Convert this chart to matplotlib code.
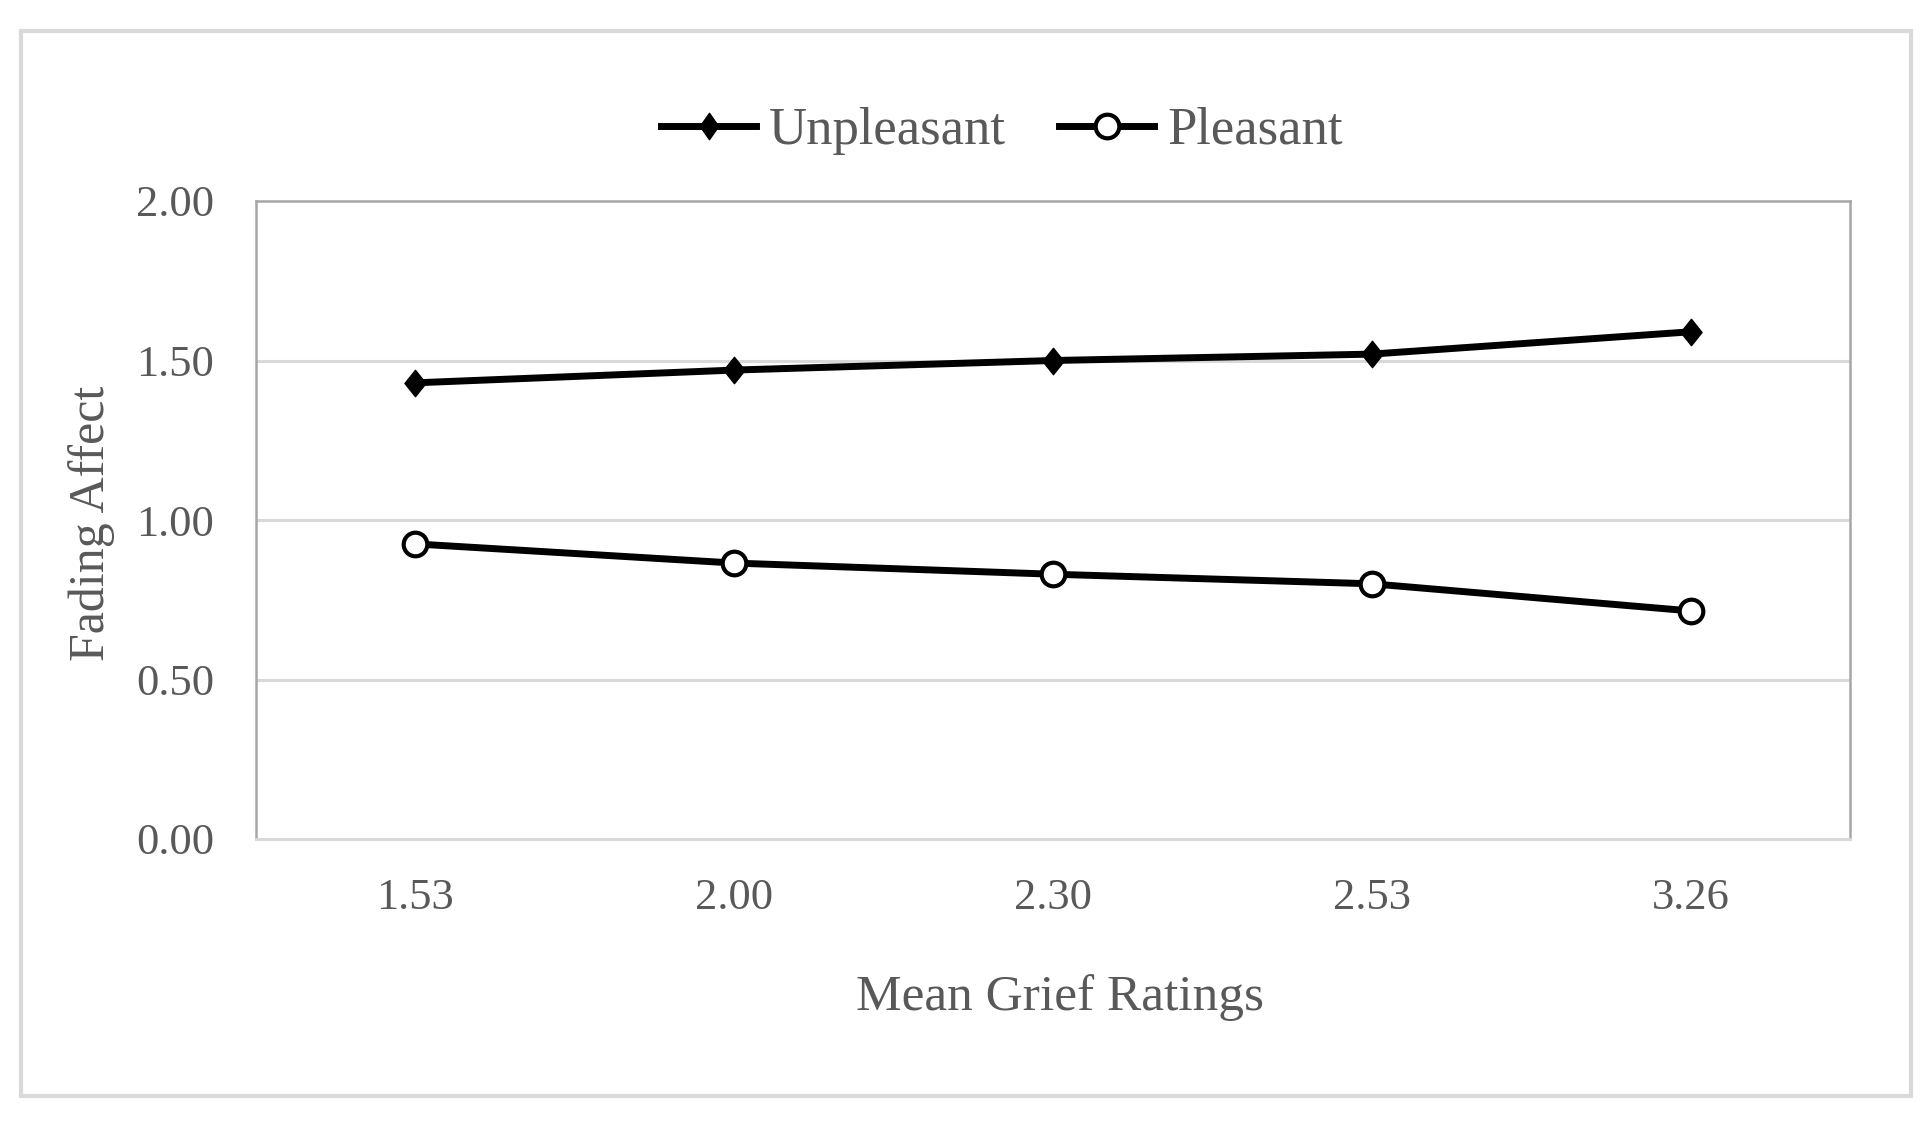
import matplotlib
matplotlib.use("Agg")
import matplotlib.pyplot as plt
from matplotlib.lines import Line2D
from matplotlib.patches import Rectangle
from matplotlib.path import Path
import numpy as np

categories = ["1.53", "2.00", "2.30", "2.53", "3.26"]
unpleasant = [1.43, 1.47, 1.50, 1.52, 1.59]
pleasant = [0.925, 0.865, 0.83, 0.80, 0.715]
yticks = [0.0, 0.5, 1.0, 1.5, 2.0]
ytick_labels = ["0.00", "0.50", "1.00", "1.50", "2.00"]

TXT = "#595959"
FONT = "Liberation Serif"


def diamond_marker(ratio):
    verts = [(0, 1), (ratio, 0), (0, -1), (-ratio, 0), (0, 1)]
    return Path(verts, closed=True)


fig = plt.figure(figsize=(19.28, 11.22), dpi=100)
fig.patch.set_facecolor("white")

# outer chart border
fig.patches.append(Rectangle((21 / 1928, 1 - 1096 / 1122), (1911 - 21) / 1928, (1096 - 31) / 1122,
                             transform=fig.transFigure, fill=False, edgecolor="#d9d9d9", linewidth=3.0))

ax = fig.add_axes([256 / 1928, 1 - 839 / 1122, (1850 - 256) / 1928, (839 - 201) / 1122])
x = np.arange(len(categories))

ax.plot(x, unpleasant, color="black", linewidth=5, marker=diamond_marker(0.8),
        markersize=19, markerfacecolor="black", markeredgecolor="black", zorder=3)
ax.plot(x, pleasant, color="black", linewidth=5, marker="o",
        markersize=17, markerfacecolor="white", markeredgecolor="black",
        markeredgewidth=3, zorder=3)

ax.set_xlim(-0.5, len(categories) - 0.5)
ax.set_ylim(0, 2)
ax.set_yticks(yticks)
ax.set_yticklabels(ytick_labels)
ax.set_xticks(x)
ax.set_xticklabels(categories)
ax.tick_params(axis="both", length=0, labelsize=32, labelcolor=TXT)
ax.tick_params(axis="y", pad=30)
ax.tick_params(axis="x", pad=28)
for lab in ax.get_xticklabels() + ax.get_yticklabels():
    lab.set_fontfamily(FONT)

for yv in [0.5, 1.0, 1.5]:
    ax.axhline(yv, color="#d9d9d9", linewidth=2.2, zorder=1)

for side in ["left", "top", "right"]:
    ax.spines[side].set_color("#a6a6a6")
    ax.spines[side].set_linewidth(1.8)
ax.spines["bottom"].set_color("#d9d9d9")
ax.spines["bottom"].set_linewidth(2.2)

fig.text(92 / 1928, 1 - 523 / 1122, "Fading Affect",
         rotation=90, ha="center", va="center", fontsize=36, color=TXT, family=FONT)
fig.text(1060 / 1928, 1 - 998 / 1122, "Mean Grief Ratings", ha="center", va="center",
         fontsize=37, color=TXT, family=FONT)

handles = [
    Line2D([0], [0], color="black", linewidth=5, marker=diamond_marker(0.7), markersize=19,
           markerfacecolor="black", markeredgecolor="black"),
    Line2D([0], [0], color="black", linewidth=5, marker="o", markersize=17,
           markerfacecolor="white", markeredgecolor="black", markeredgewidth=3),
]
leg = fig.legend(handles, ["Unpleasant", "Pleasant"], loc="center", bbox_to_anchor=(1002 / 1928, 1 - 131 / 1122),
                 ncol=2, frameon=False, prop={"family": FONT, "size": 38}, handlelength=1.8,
                 handletextpad=0.25, columnspacing=1.0)
for t in leg.get_texts():
    t.set_color(TXT)

fig.savefig("out.png", dpi=100, facecolor="white")
